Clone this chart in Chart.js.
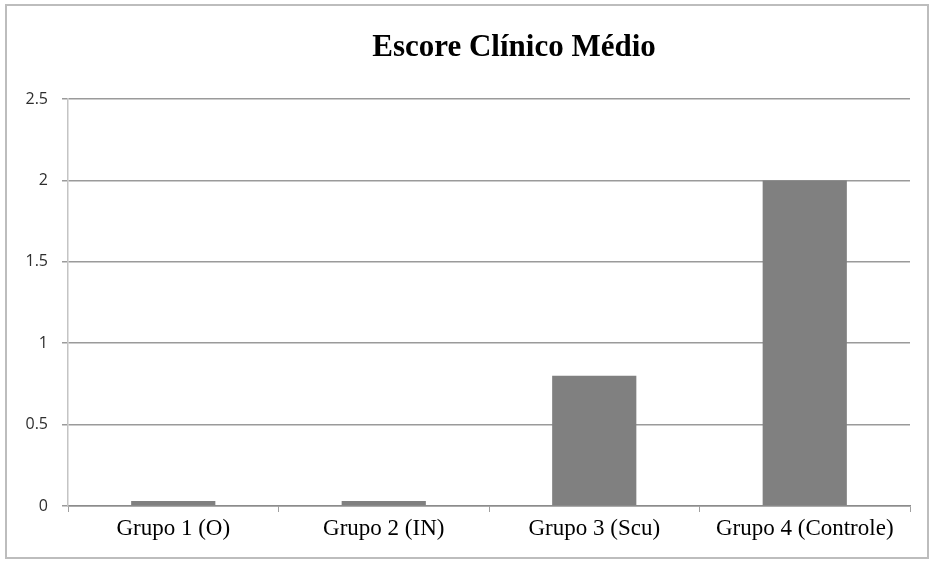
<!DOCTYPE html>
<html>
<head>
<meta charset="utf-8">
<script src="https://cdn.jsdelivr.net/npm/chart.js@4/dist/chart.umd.min.js"></script>
<style>
  html, body { margin: 0; padding: 0; background: #fff; }
  #wrap { width: 934px; height: 562px; position: relative; }
</style>
</head>
<body>
<div id="wrap"><canvas id="chart"></canvas></div>
<script>
const categories = ['Grupo 1 (O)', 'Grupo 2 (IN)', 'Grupo 3 (Scu)', 'Grupo 4 (Controle)'];
const scoreValues = [0.03, 0.03, 0.8, 2.0];
const yTicks = [0, 0.5, 1, 1.5, 2, 2.5];
const chartTitle = 'Escore Clínico Médio';

// frame + title drawn by hand (title sits right of centre in the original)
const decor = {
    id: 'decor',
    beforeDraw(chart) {
        const ctx = chart.ctx;
        ctx.save();
        ctx.strokeStyle = '#bdbdbd';
        ctx.lineWidth = 2;
        ctx.strokeRect(6, 5, 922, 553);
        ctx.restore();
    },
    afterDraw(chart) {
        const ctx = chart.ctx;
        ctx.save();
        ctx.font = 'bold 31px "Liberation Serif", "Times New Roman", serif';
        ctx.fillStyle = '#000';
        ctx.textAlign = 'center';
        ctx.textBaseline = 'alphabetic';
        ctx.fillText(chartTitle, 514, 56);
        ctx.restore();
    }
};

document.addEventListener('DOMContentLoaded', () => {
    const ctx = document.getElementById('chart').getContext('2d');
    new Chart(ctx, {
        type: 'bar',
        data: {
            labels: categories,
            datasets: [{
                data: scoreValues,
                backgroundColor: '#808080',
                borderWidth: 0,
                barPercentage: 0.4,
                categoryPercentage: 1
            }]
        },
        options: {
            responsive: true,
            maintainAspectRatio: false,
            animation: false,
            layout: { padding: { left: 0, top: 99, right: 24, bottom: 0 } },
            plugins: {
                legend: { display: false },
                tooltip: { enabled: false }
            },
            scales: {
                x: {
                    afterFit: (scale) => { scale.height = 56; },
                    grid: {
                        offset: true,
                        drawOnChartArea: false,
                        tickLength: 6,
                        color: '#a0a0a0'
                    },
                    border: { color: '#8c8c8c', width: 1.5 },
                    ticks: {
                        color: '#000',
                        padding: 3,
                        maxRotation: 0,
                        font: { family: '"Liberation Serif", "Times New Roman", serif', size: 23 }
                    }
                },
                y: {
                    min: 0,
                    max: 2.5,
                    afterFit: (scale) => { scale.width = 68; },
                    afterBuildTicks: (scale) => {
                        scale.ticks = yTicks.map(v => ({ value: v }));
                    },
                    grid: {
                        color: '#9a9a9a',
                        lineWidth: 1.5,
                        tickLength: 6
                    },
                    border: { color: '#c4c4c4', width: 1.5 },
                    ticks: {
                        color: '#2e2e2e',
                        padding: 14,
                        font: { family: '"Open Sans", sans-serif', size: 16 },
                        callback: (v) => String(v)
                    }
                }
            }
        },
        plugins: [decor]
    });
});
</script>
</body>
</html>
